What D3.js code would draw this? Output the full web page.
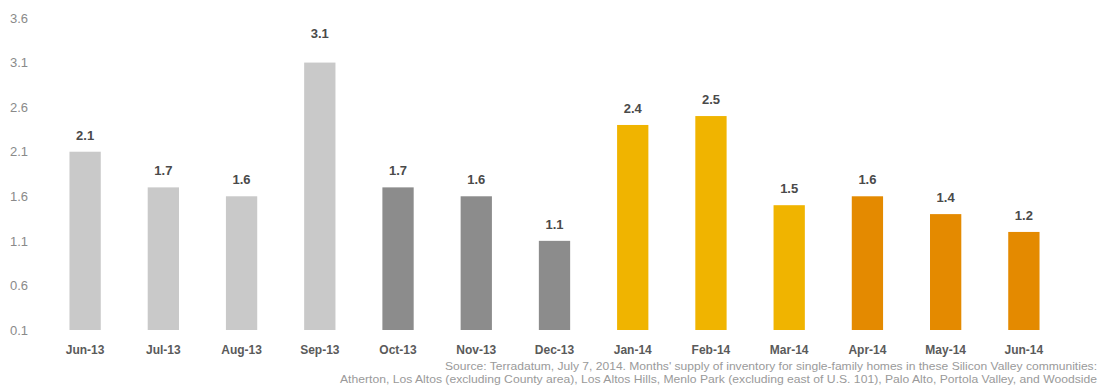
<!DOCTYPE html>
<html><head><meta charset="utf-8">
<script src="https://cdn.jsdelivr.net/npm/d3@7"></script>
<style>body{margin:0;background:#fff}svg{display:block}</style>
</head><body>
<svg id="c" width="1102" height="385"></svg>
<script>
const categories = ["Jun-13","Jul-13","Aug-13","Sep-13","Oct-13","Nov-13","Dec-13","Jan-14","Feb-14","Mar-14","Apr-14","May-14","Jun-14"];
const values = [2.1,1.7,1.6,3.1,1.7,1.6,1.1,2.4,2.5,1.5,1.6,1.4,1.2];
const groups = ["q3","q3","q3","q3","q4","q4","q4","q1","q1","q1","q2","q2","q2"];
const groupColors = {q3:"#c9c9c9", q4:"#8c8c8c", q1:"#f0b400", q2:"#e48a00"};
const yTicks = [0.1,0.6,1.1,1.6,2.1,2.6,3.1,3.6];
const sourceLines = [
  "Source: Terradatum, July 7, 2014. Months' supply of inventory for single-family homes in these Silicon Valley communities:",
  "Atherton, Los Altos (excluding County area), Los Altos Hills, Menlo Park (excluding east of U.S. 101), Palo Alto, Portola Valley, and Woodside"
];
const sourceWidths = [652, 757];

const svg = d3.select("#c");
const x = d3.scaleBand().domain(categories).range([46,1063]).paddingInner(0.6).paddingOuter(0.3);
const y = d3.scaleLinear().domain([0.1,3.6]).range([330,18]);

const yAxis = svg.append("g").attr("transform","translate(10,0)")
  .call(d3.axisLeft(y).tickValues(yTicks).tickSize(0).tickPadding(0).tickFormat(d3.format(".1f")));
yAxis.select(".domain").remove();
yAxis.selectAll("text").attr("font-family","Liberation Sans, Arial, sans-serif").attr("font-size",13).attr("fill","#8a8a8a").attr("text-anchor","start");

svg.append("g").selectAll("rect").data(values).join("rect")
  .attr("x",(d,i)=>x(categories[i]))
  .attr("width",x.bandwidth())
  .attr("y",d=>y(d))
  .attr("height",d=>y(0.1)-y(d))
  .attr("fill",(d,i)=>groupColors[groups[i]]);

svg.append("g").selectAll("text").data(values).join("text")
  .attr("x",(d,i)=>x(categories[i])+x.bandwidth()/2)
  .attr("y",(d,i)=>y(d)-(d===d3.max(values)?25:12))
  .attr("text-anchor","middle")
  .attr("font-family","Liberation Sans, Arial, sans-serif").attr("font-size",13).attr("font-weight","bold")
  .attr("fill","#4a4a4a")
  .text(d=>d3.format(".1f")(d));

const xAxis = svg.append("g").attr("transform","translate(0,330)")
  .call(d3.axisBottom(x).tickSize(0).tickPadding(15));
xAxis.select(".domain").remove();
xAxis.selectAll("text").attr("font-family","Liberation Sans, Arial, sans-serif").attr("font-size",12).attr("font-weight","bold").attr("fill","#5a5a5a");

svg.append("g").selectAll("text").data(sourceLines).join("text")
  .attr("x",1097).attr("y",(d,i)=>370+i*13)
  .attr("text-anchor","end")
  .attr("textLength",(d,i)=>sourceWidths[i]).attr("lengthAdjust","spacingAndGlyphs")
  .attr("font-family","Liberation Sans, Arial, sans-serif").attr("font-size",11).attr("fill","#9a9a9a")
  .text(d=>d);
</script>
</body></html>
